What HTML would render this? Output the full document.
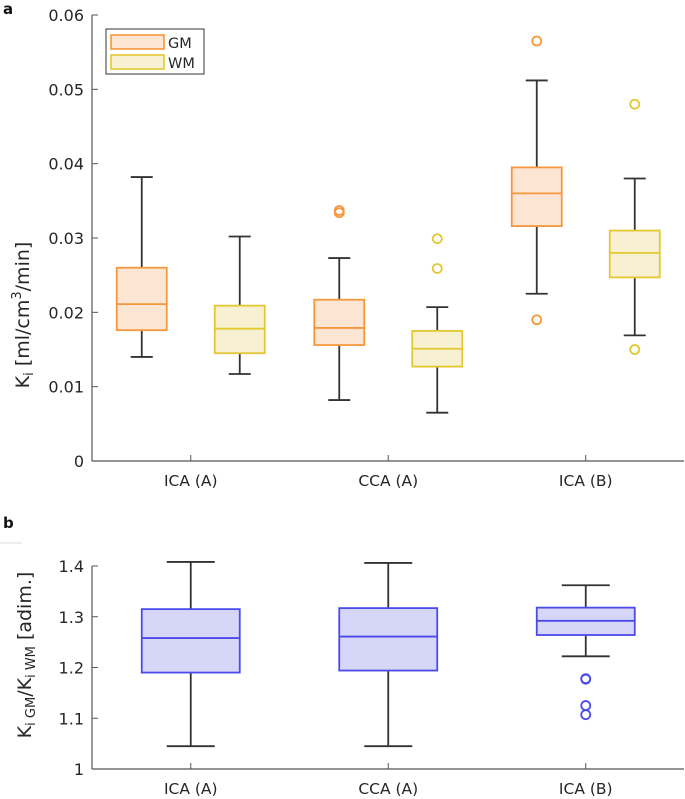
<!DOCTYPE html>
<html><head><meta charset="utf-8"><style>
body{margin:0;background:#fff;}
svg{display:block;font-family:"DejaVu Sans","Liberation Sans",sans-serif;}
</style></head><body>
<svg id="s" width="685" height="799"></svg>
<script>
const categories=["ICA (A)","CCA (A)","ICA (B)"];
// [upperWhisker, q3, median, q1, lowerWhisker]
const gmStats=[[0.0382,0.0260,0.0211,0.0176,0.0140],[0.0273,0.0217,0.0179,0.0156,0.0082],[0.0512,0.0395,0.0360,0.0316,0.0225]];
const wmStats=[[0.0302,0.0209,0.0178,0.0145,0.0117],[0.0207,0.0175,0.0151,0.0127,0.0065],[0.0380,0.0310,0.0280,0.0247,0.0169]];
const gmOutliers=[[],[0.0337,0.0334],[0.0565,0.0190]];
const wmOutliers=[[],[0.0299,0.0259],[0.0480,0.0150]];
const aTicks=[0,0.01,0.02,0.03,0.04,0.05,0.06];
const aTickLabels=["0","0.01","0.02","0.03","0.04","0.05","0.06"];
const ratioStats=[[1.408,1.315,1.258,1.190,1.045],[1.406,1.317,1.261,1.194,1.045],[1.362,1.318,1.292,1.264,1.222]];
const ratioOutliers=[[],[],[1.178,1.177,1.125,1.107]];
const bTicks=[1,1.1,1.2,1.3,1.4];
const bTickLabels=["1","1.1","1.2","1.3","1.4"];

const NS="http://www.w3.org/2000/svg",S=document.getElementById('s');
function mk(t,a,p){const e=document.createElementNS(NS,t);for(const k in a)e.setAttribute(k,a[k]);(p||S).appendChild(e);return e;}
const X0=92,STEP=197.5,XR=684;
const xA=i=>X0+STEP*(i+0.5);
const yA=v=>461-v/0.06*446;
const yB=v=>769-(v-1)/0.4*203;

function box(st,cx,half,cap,yf,stroke,fill,name){
  const g=mk('g',{});
  
  
  mk('line',{x1:cx,x2:cx,y1:yf(st[0]),y2:yf(st[1]),stroke:'#333','stroke-width':1.8},g);
  mk('line',{x1:cx,x2:cx,y1:yf(st[3]),y2:yf(st[4]),stroke:'#333','stroke-width':1.8},g);
  mk('line',{x1:cx-cap,x2:cx+cap,y1:yf(st[0]),y2:yf(st[0]),stroke:'#333','stroke-width':1.8},g);
  mk('line',{x1:cx-cap,x2:cx+cap,y1:yf(st[4]),y2:yf(st[4]),stroke:'#333','stroke-width':1.8},g);
  mk('rect',{x:cx-half,y:yf(st[1]),width:2*half,height:yf(st[3])-yf(st[1]),fill:fill,stroke:stroke,'stroke-width':1.8},g);
  mk('line',{x1:cx-half,x2:cx+half,y1:yf(st[2]),y2:yf(st[2]),stroke:stroke,'stroke-width':1.8},g);
}
function outl(vals,cx,yf,stroke,name){vals.forEach(v=>{const c=mk('circle',{cx:cx,cy:yf(v),r:4.5,fill:'none',stroke:stroke,'stroke-width':1.8});});}
function axes(yf,ticks,labels,ybase,prefix){
  const ax=mk('g',{});
  
  
  mk('line',{x1:X0,x2:X0,y1:yf(ticks[ticks.length-1]),y2:ybase,stroke:'#555','stroke-width':1.2},ax);
  mk('line',{x1:X0,x2:XR,y1:ybase,y2:ybase,stroke:'#555','stroke-width':1.2},ax);
  ticks.forEach((t,i)=>{mk('line',{x1:X0,x2:X0+6,y1:yf(t),y2:yf(t),stroke:'#555','stroke-width':1},ax);
    const tx=mk('text',{x:X0-8,y:yf(t)+6,'text-anchor':'end','font-size':16,fill:'#262626'},ax);tx.textContent=labels[i];
    });
  categories.forEach((c,i)=>{mk('line',{x1:xA(i),x2:xA(i),y1:ybase,y2:ybase-6,stroke:'#555','stroke-width':1},ax);
    const tx=mk('text',{x:xA(i),y:ybase+25,'text-anchor':'middle','font-size':15.5,fill:'#262626'},ax);tx.textContent=c;
    });
}
// Panel a
axes(yA,aTicks,aTickLabels,461,'panel-a');
const GMS='#f7973d',GMF='#fde5d4',WMS='#e3c832',WMF='#f7f1d1';
categories.forEach((c,i)=>{
  box(gmStats[i],xA(i)-49,25,11,yA,GMS,GMF,'gm-box');
  box(wmStats[i],xA(i)+49,25,11,yA,WMS,WMF,'wm-box');
  outl(gmOutliers[i],xA(i)-49,yA,GMS,'gm-outlier');
  outl(wmOutliers[i],xA(i)+49,yA,WMS,'wm-outlier');
});
// legend
const lg=mk('g',{});
mk('rect',{x:106,y:29,width:98,height:45,fill:'#fff',stroke:'#333','stroke-width':1},lg);
mk('rect',{x:111,y:35,width:53,height:14,fill:GMF,stroke:GMS,'stroke-width':1.6},lg);
mk('rect',{x:111,y:55,width:53,height:14,fill:WMF,stroke:WMS,'stroke-width':1.6},lg);
let t=mk('text',{x:168,y:48,'font-size':14.5,fill:'#262626'},lg);t.textContent='GM';
t=mk('text',{x:168,y:68,'font-size':14.5,fill:'#262626'},lg);t.textContent='WM';
// panel labels
t=mk('text',{x:3,y:14,'font-size':15,'font-weight':'bold',fill:'#111'});t.textContent='a';
t=mk('text',{x:3,y:528,'font-size':15,'font-weight':'bold',fill:'#111'});t.textContent='b';
mk('line',{x1:0,x2:22,y1:543,y2:543,stroke:'#ddd','stroke-width':1});
// y titles
t=mk('text',{transform:'translate(29,315) rotate(-90)','text-anchor':'middle','font-size':19,fill:'#262626'});
t.innerHTML='K<tspan font-size="13" dy="4">i</tspan><tspan dy="-4"> [ml/cm</tspan><tspan font-size="13" dy="-8">3</tspan><tspan dy="8">/min]</tspan>';

t=mk('text',{transform:'translate(31,655) rotate(-90)','text-anchor':'middle','font-size':19,fill:'#262626'});
t.innerHTML='K<tspan font-size="13" dy="4">i GM</tspan><tspan dy="-4">/K</tspan><tspan font-size="13" dy="4">i WM</tspan><tspan dy="-4"> [adim.]</tspan>';

// Panel b
axes(yB,bTicks,bTickLabels,769,'panel-b');
categories.forEach((c,i)=>{
  box(ratioStats[i],xA(i),49,24,yB,'#4b4bea','#d6d6f9','ratio-box');
  outl(ratioOutliers[i],xA(i),yB,'#4b4bea','ratio-outlier');
});
</script>
</body></html>
